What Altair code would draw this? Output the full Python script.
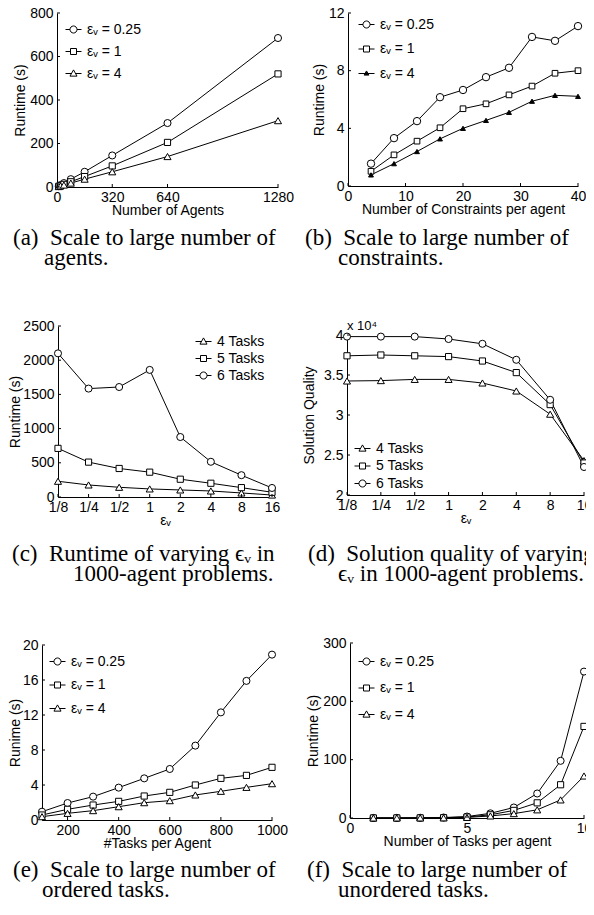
import altair as alt
import pandas as pd

FONT = "Liberation Sans"
SERIF = "Liberation Serif"

# ---------------- data ----------------
# (a) Scale to large number of agents
a_x = [10, 20, 40, 80, 160, 320, 640, 1280]
a_e025 = [4, 9, 18, 36, 70, 145, 294, 685]
a_e1 = [3, 6, 12, 24, 48, 97, 205, 520]
a_e4 = [2, 5, 9, 18, 36, 70, 140, 305]

# (b) Scale to large number of constraints
b_x = [4, 8, 12, 16, 20, 24, 28, 32, 36, 40]
b_e025 = [1.55, 3.32, 4.5, 6.16, 6.66, 7.55, 8.2, 10.34, 10.07, 11.09]
b_e1 = [1.02, 2.16, 3.11, 4.04, 5.36, 5.7, 6.32, 6.93, 7.82, 8.0]
b_e4 = [0.77, 1.55, 2.39, 3.27, 4.0, 4.55, 5.11, 5.88, 6.29, 6.22]

# (c) Runtime of varying eps_v
eps = [0.125, 0.25, 0.5, 1, 2, 4, 8, 16]
c_t4 = [230, 176, 142, 118, 103, 88, 59, 29]
c_t5 = [711, 510, 417, 363, 260, 201, 137, 69]
c_t6 = [2100, 1585, 1608, 1858, 877, 515, 319, 132]

# (d) Solution quality of varying eps_v
d_t4 = [34250, 34300, 34450, 34450, 34000, 33000, 30100, 24300]
d_t5 = [37400, 37500, 37400, 37300, 36750, 35300, 31300, 24000]
d_t6 = [39800, 39800, 39800, 39500, 38900, 36900, 31900, 23500]

# (e) Scale to large number of ordered tasks
e_x = [100, 200, 300, 400, 500, 600, 700, 800, 900, 1000]
e_e025 = [0.95, 1.94, 2.67, 3.70, 4.76, 5.83, 8.50, 12.3, 15.9, 18.9]
e_e1 = [0.57, 1.22, 1.71, 2.13, 2.74, 3.16, 4.0, 4.76, 5.10, 6.02]
e_e4 = [0.38, 0.76, 1.07, 1.52, 1.98, 2.21, 2.86, 3.28, 3.73, 4.15]

# (f) Scale to large number of unordered tasks
f_x = [1, 2, 3, 4, 5, 6, 7, 8, 9, 10]
f_e025 = [0.1, 0.2, 0.4, 0.8, 2.5, 8, 18, 42, 98, 251]
f_e1 = [0.05, 0.1, 0.2, 0.5, 1.7, 5.5, 13, 26, 57, 157]
f_e4 = [0.03, 0.06, 0.15, 0.3, 1.0, 3.5, 7.5, 14, 31, 72]

EPS_NAMES = ["εᵥ = 0.25", "εᵥ = 1", "εᵥ = 4"]
TASK_NAMES = ["4 Tasks", "5 Tasks", "6 Tasks"]

# legend symbol paths (line with marker), drawn as outlines
P_CIRC = "M-1,0H-0.44M0.44,0H1M0.44,0A0.44,0.44,0,1,1,-0.44,0A0.44,0.44,0,1,1,0.44,0Z"
P_SQR = "M-1,0H-0.375M0.375,0H1M-0.375,-0.375H0.375V0.375H-0.375Z"
P_TRI = "M-1,0H-0.254M0.254,0H1M0,-0.45L0.44,0.33H-0.44Z"
P_TRIF = ("M-1,0H1M0,-0.32L0.3,0.2H-0.3Z"
          "M0,-0.2L0.18,0.12H-0.18ZM0,-0.08L0.07,0.05H-0.07Z")

W, H = 300, 190
DX = -5   # small shift of the right column


def long_df(xs, names, series):
    rows = []
    for name, vals in zip(names, series):
        for x, y in zip(xs, vals):
            rows.append({"x": x, "y": y, "s": name})
    return pd.DataFrame(rows)


def axis(title, values, orient, offset, label_expr=None, title_pad=2, label_pad=4):
    kw = dict(title=title, values=values, orient=orient, offset=offset,
              ticks=False, tickSize=0, domainColor="black", domainWidth=1,
              labelFont=FONT, labelFontSize=14, labelColor="black",
              titleFont=FONT, titleFontSize=14, titleFontWeight="normal",
              titleColor="black", labelPadding=label_pad, titlePadding=title_pad,
              labelOverlap=False, labelFlush=False, grid=False)
    if label_expr:
        kw["labelExpr"] = label_expr
    else:
        kw["format"] = "d"
    return alt.Axis(**kw)


def make_panel(p):
    df = long_df(p["xs"], p["names"], p["series"])
    xr, yr = p["xr"], p["yr"]
    sx = alt.Scale(domain=p["xdom"], range=xr, nice=False, zero=False, **p.get("xscale_kw", {}))
    sy = alt.Scale(domain=p["ydom"], range=yr, nice=False, zero=False)
    X = alt.X("x:Q", scale=sx,
              axis=axis(p["xtitle"], p["xticks"], "bottom", yr[0] - H,
                        p.get("xlabel_expr"), title_pad=-1, label_pad=3))
    Y = alt.Y("y:Q", scale=sy,
              axis=axis(p["ytitle"], p["yticks"], "left", -xr[0],
                        p.get("ylabel_expr"), title_pad=p.get("ytitle_pad", 2)))
    layers = [alt.Chart(df).mark_line(color="black", strokeWidth=1).encode(x=X, y=Y, detail="s:N")]
    for name, shape, fill, size in zip(p["names"], p["shapes"], p["fills"], p["sizes"]):
        layers.append(
            alt.Chart(df[df.s == name]).mark_point(
                shape=shape, filled=True, fill=fill, stroke="black",
                strokeWidth=1, size=size, opacity=1).encode(x=X, y=Y))
    # inward ticks
    layers.append(alt.Chart(pd.DataFrame({"x": p["xticks"]})).mark_rule(color="black", strokeWidth=1)
                  .encode(x=X, y=alt.value(yr[0]), y2=alt.value(yr[0] - 3)))
    layers.append(alt.Chart(pd.DataFrame({"y": p["yticks"]})).mark_rule(color="black", strokeWidth=1)
                  .encode(y=Y, x=alt.value(xr[0]), x2=alt.value(xr[0] + 3)))
    # legend (scale-driven, no visible marks of its own)
    lx, ly, rp = p["legend"]
    leg = alt.Legend(orient="none", legendX=lx, legendY=ly, title=None,
                     labelFont=FONT, labelFontSize=14, labelColor="black",
                     symbolSize=256, symbolStrokeWidth=1, symbolStrokeColor="black",
                     symbolFillColor="transparent",
                     symbolOpacity=1, rowPadding=rp, padding=0, labelOffset=5)
    layers.append(
        alt.Chart(pd.DataFrame({"s": p["names"]})).transform_filter("false")
        .mark_point(filled=False, stroke="black", strokeWidth=1)
        .encode(shape=alt.Shape("s:N", scale=alt.Scale(domain=p["names"], range=p["paths"]),
                                legend=leg)))
    # caption
    (c1x, c1y), (c2x, c2y) = p["cap_pos"]
    for txt, cx, cy in [(p["cap"][0], c1x, c1y), (p["cap"][1], c2x, c2y)]:
        layers.append(
            alt.Chart(pd.DataFrame({"t": [txt]})).mark_text(
                font=SERIF, fontSize=23, align="left", baseline="alphabetic", color="black")
            .encode(text="t:N", x=alt.value(cx), y=alt.value(cy)))
    if p.get("extra"):
        txt, ex, ey = p["extra"]
        layers.append(
            alt.Chart(pd.DataFrame({"t": [txt]})).mark_text(
                font=FONT, fontSize=13, align="left", baseline="alphabetic", color="black")
            .encode(text="t:N", x=alt.value(ex), y=alt.value(ey)))
    return alt.layer(*layers).properties(width=W, height=H)


SP = "\u00a0 "
eps_label = "datum.value < 1 ? '1/' + format(1/datum.value, 'd') : format(datum.value, 'd')"

pa = dict(xs=a_x, names=EPS_NAMES, series=[a_e025, a_e1, a_e4],
          shapes=["circle", "square", "triangle-up"], fills=["white", "white", "white"],
          sizes=[50, 38, 50], paths=[P_CIRC, P_SQR, P_TRI],
          xdom=[0, 1280], ydom=[0, 800], xr=[49, 270], yr=[179, 5],
          xticks=[0, 320, 640, 1280], yticks=[0, 200, 400, 600, 800],
          xtitle="Number of Agents", ytitle="Runtime (s)",
          legend=(57, 13, 6),
          cap=["(a)" + SP + "Scale to large number of", "agents."],
          cap_pos=[(5, 237), (36, 257)])

pb = dict(xs=b_x, names=EPS_NAMES, series=[b_e025, b_e1, b_e4],
          shapes=["circle", "square", "triangle-up"], fills=["white", "white", "black"],
          sizes=[55, 32, 24], paths=[P_CIRC, P_SQR, P_TRIF],
          xdom=[0, 40], ydom=[0, 12], xr=[45 + DX, 275 + DX], yr=[178, 5],
          xticks=[0, 10, 20, 30, 40], yticks=[0, 4, 8, 12],
          xtitle="Number of Constraints per agent", ytitle="Runtime (s)",
          legend=(55 + DX, 8, 8.5),
          cap=["(b)" + SP + "Scale to large number of", "constraints."],
          cap_pos=[(2 + DX, 237), (35 + DX, 257)])

pc = dict(xs=eps, names=TASK_NAMES, series=[c_t4, c_t5, c_t6],
          shapes=["triangle-up", "square", "circle"], fills=["white", "white", "white"],
          sizes=[50, 38, 50], paths=[P_TRI, P_SQR, P_CIRC],
          xdom=[0.125, 16], ydom=[0, 2500], xr=[50, 264], yr=[173, 2],
          xscale_kw=dict(type="log", base=2),
          xticks=eps, yticks=[0, 500, 1000, 1500, 2000, 2500],
          xlabel_expr=eps_label,
          xtitle="εᵥ", ytitle="Runtime (s)", ytitle_pad=0,
          legend=(187, 9, 1),
          cap=["(c)" + SP + "Runtime of varying ϵᵥ in", "1000-agent problems."],
          cap_pos=[(4, 237), (65, 257)])

pd_ = dict(xs=eps, names=TASK_NAMES, series=[d_t4, d_t5, d_t6],
           shapes=["triangle-up", "square", "circle"], fills=["white", "white", "white"],
           sizes=[50, 38, 50], paths=[P_TRI, P_SQR, P_CIRC],
           xdom=[0.125, 16], ydom=[20000, 40000], xr=[44 + DX, 281 + DX], yr=[171, 11],
           xscale_kw=dict(type="log", base=2),
           xticks=eps, yticks=[20000, 25000, 30000, 35000, 40000],
           xlabel_expr=eps_label, ylabel_expr="'' + datum.value / 10000",
           xtitle="εᵥ", ytitle="Solution Quality", ytitle_pad=7,
           legend=(51 + DX, 116, 1.5),
           cap=["(d)" + SP + "Solution quality of varying", "ϵᵥ in 1000-agent problems."],
           cap_pos=[(5 + DX, 237), (35 + DX, 257)],
           extra=("x 10⁴", 44 + DX, 6))

pe = dict(xs=e_x, names=EPS_NAMES, series=[e_e025, e_e1, e_e4],
          shapes=["circle", "square", "triangle-up"], fills=["white", "white", "white"],
          sizes=[50, 38, 50], paths=[P_CIRC, P_SQR, P_TRI],
          xdom=[100, 1000], ydom=[0, 20], xr=[34, 264], yr=[180, 5],
          xticks=[200, 400, 600, 800, 1000], yticks=[0, 4, 8, 12, 16, 20],
          xtitle="#Tasks per Agent", ytitle="Runime (s)", ytitle_pad=0,
          legend=(41, 13, 7.5),
          cap=["(e)" + SP + "Scale to large number of", "ordered tasks."],
          cap_pos=[(5, 237), (34, 257)])

pf = dict(xs=f_x, names=EPS_NAMES, series=[f_e025, f_e1, f_e4],
          shapes=["circle", "square", "triangle-up"], fills=["white", "white", "white"],
          sizes=[50, 38, 50], paths=[P_CIRC, P_SQR, P_TRI],
          xdom=[0, 10], ydom=[0, 300], xr=[47 + DX, 281 + DX], yr=[178, 3],
          xticks=[0, 5, 10], yticks=[0, 100, 200, 300],
          xtitle="Number of Tasks per agent", ytitle="Runtime (s)",
          legend=(55 + DX, 13, 10.5),
          cap=["(f)" + SP + "Scale to large number of", "unordered tasks."],
          cap_pos=[(4 + DX, 237), (35 + DX, 257)])

panels = [make_panel(p) for p in [pa, pb, pc, pd_, pe, pf]]

chart = alt.concat(*panels, columns=2, spacing={"row": 126, "column": 0},
                   bounds="flush") \
    .resolve_scale(shape="independent") \
    .properties(autosize=alt.AutoSizeParams(type="none"),
                padding={"left": 0, "top": 0, "right": 578, "bottom": 893},
                background="white") \
    .configure_view(stroke=None)

chart.save("out.html", embed_options={"renderer": "svg", "actions": False})
